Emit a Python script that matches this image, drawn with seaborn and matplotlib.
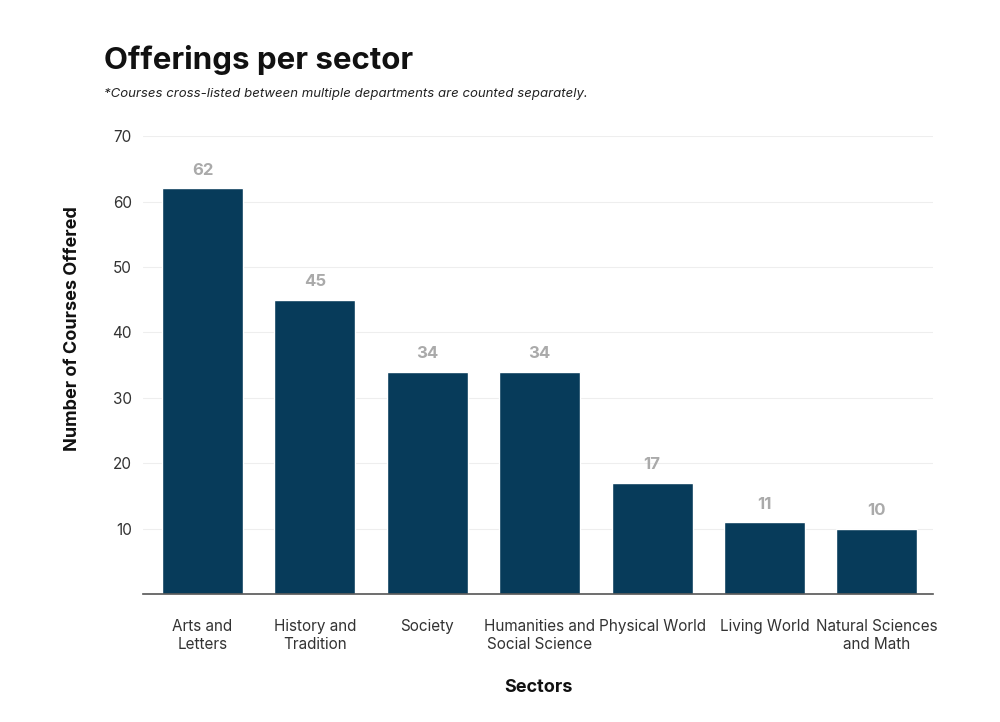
import matplotlib
matplotlib.use("Agg")
import matplotlib.pyplot as plt
import seaborn as sns
import pandas as pd

sectors = ["Arts and\nLetters", "History and\nTradition", "Society",
           "Humanities and\nSocial Science", "Physical World", "Living World",
           "Natural Sciences\nand Math"]
counts = [62, 45, 34, 34, 17, 11, 10]
yticks = [10, 20, 30, 40, 50, 60, 70]

sns.set_theme(style="white")
plt.rcParams['font.family'] = ['Inter', 'DejaVu Sans']

df = pd.DataFrame({"Sector": sectors, "Count": counts})

fig = plt.figure(figsize=(10, 7.22), dpi=100)
ax = fig.add_axes([0.143, 0.177, 0.790, 0.6345])
sns.barplot(data=df, x="Sector", y="Count", color="#073b5a", width=0.72,
            saturation=1, ax=ax)

ax.set_ylim(0, 70)
ax.set_xlim(-0.53, 6.5)
ax.set_yticks(yticks)
ax.yaxis.grid(True, color="#eeeeee", linewidth=0.8)
ax.set_axisbelow(True)
for s in ["top", "right", "left"]:
    ax.spines[s].set_visible(False)
ax.spines["bottom"].set_color("#555555")
ax.spines["bottom"].set_linewidth(1.2)
ax.tick_params(axis="both", length=0, labelsize=11, colors="#333333")
ax.tick_params(axis="x", pad=17.5)
ax.tick_params(axis="y", pad=8)
for lbl in ax.get_xticklabels():
    lbl.set_linespacing(1.25)

for i, v in enumerate(counts):
    ax.text(i, v + 1.6, str(v), ha="center", va="bottom", fontsize=12,
            fontweight="bold", color="#aaaaaa")

ax.set_xlabel("Sectors", fontsize=13, fontweight="bold", color="#111111", labelpad=20)
ax.set_ylabel("Number of Courses Offered", fontsize=13, fontweight="bold",
              color="#111111")
ax.yaxis.set_label_coords(-0.079, 0.579)

fig.text(0.104, 0.917, "Offerings per sector", fontsize=22.5, fontweight="bold",
         color="#111111", ha="left", va="center")
fig.text(0.104, 0.870, "*Courses cross-listed between multiple departments are counted separately.",
         fontsize=9.5, style="italic", color="#222222", ha="left", va="center")

fig.savefig("out.png", dpi=100)
